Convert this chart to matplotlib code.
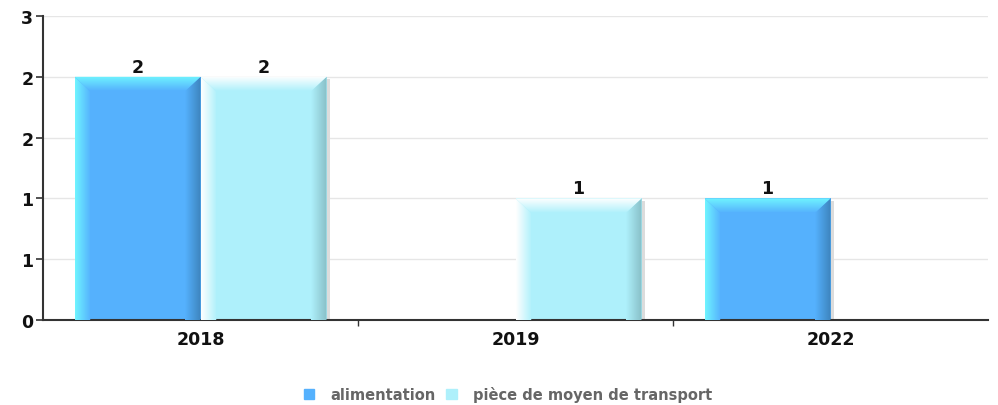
import numpy as np
import matplotlib
matplotlib.use("Agg")
import matplotlib.pyplot as plt
from matplotlib.patches import Polygon, Rectangle
from matplotlib.colors import to_rgb

# counts per year and category
years = ["2018", "2019", "2022"]
alimentation = [2, 0, 1]
piece_transport = [2, 1, 0]
series_names = ["alimentation", "pièce de moyen de transport"]
y_ticks = [0, 0.5, 1, 1.5, 2, 2.5]
y_tick_labels = ["0", "1", "1", "2", "2", "3"]

# main, light edge, dark edge
palette = [("#55b1fd", "#6ff4ff", "#3d84bd"),
           ("#aef0fb", "#ffffff", "#88bfc7")]


def gradient_fill(ax, poly_xy, c_from, c_to, direction, extent):
    """Fill a polygon with a linear gradient (h = left->right, v = bottom->top)."""
    n = 64
    a = np.array(to_rgb(c_from))
    b = np.array(to_rgb(c_to))
    t = np.linspace(0, 1, n)
    cols = a[None, :] * (1 - t[:, None]) + b[None, :] * t[:, None]
    if direction == "h":
        img = cols[None, :, :]
    else:
        img = cols[:, None, :]
    im = ax.imshow(img, extent=extent, origin="lower", aspect="auto",
                   interpolation="bilinear", zorder=3)
    clip = Polygon(poly_xy, closed=True, transform=ax.transData)
    im.set_clip_path(clip)


fig = plt.figure(figsize=(9.98, 4.06), dpi=100)
ax = fig.add_axes([43 / 998, 85 / 406, 945 / 998, 304 / 406])

x = np.arange(len(years))
width = 0.4
dx = 0.05
dy = 0.12

for s, (vals, (main, light, dark)) in enumerate(zip([alimentation, piece_transport], palette)):
    offs = -width / 2 if s == 0 else width / 2
    bars = ax.bar(x + offs, vals, width, color=main, zorder=2, linewidth=0,
                  label=series_names[s])
    for b, v in zip(bars, vals):
        if v == 0:
            continue
        x0 = b.get_x()
        x1 = x0 + b.get_width()
        top = b.get_height()
        # soft shadow on the right
        ax.add_patch(Rectangle((x1, 0), 0.012, top - 0.02, color="#dcdcdc",
                               zorder=1, linewidth=0))
        # left bevel
        gradient_fill(ax, [(x0, 0), (x0, top), (x0 + dx, top - dy), (x0 + dx, 0)],
                      light, main, "h", (x0, x0 + dx, 0, top))
        # right bevel
        gradient_fill(ax, [(x1, 0), (x1, top), (x1 - dx, top - dy), (x1 - dx, 0)],
                      main, dark, "h", (x1 - dx, x1, 0, top))
        # top bevel
        gradient_fill(ax, [(x0, top), (x1, top), (x1 - dx, top - dy), (x0 + dx, top - dy)],
                      main, light, "v", (x0, x1, top - dy, top))
        ax.text(b.get_x() + b.get_width() / 2, top + 0.01, str(v), ha="center",
                va="bottom", fontsize=12.5, fontweight="bold", color="#111111", zorder=5)

ax.set_xlim(-0.5, len(years) - 0.5)
ax.set_ylim(0, 2.5)
ax.set_yticks(y_ticks)
ax.set_yticklabels(y_tick_labels)
ax.set_xticks(x)
ax.set_xticklabels(years)
ax.set_xticks(np.arange(1, len(years)) - 0.5, minor=True)
ax.tick_params(axis="x", which="major", length=0, pad=7)
ax.tick_params(axis="x", which="minor", length=4, width=1, color="#333333", direction="out")
ax.tick_params(axis="y", length=5, width=1.2, color="#333333", pad=2)
for lab in ax.get_xticklabels() + ax.get_yticklabels():
    lab.set_fontsize(12.5)
    lab.set_fontweight("bold")
    lab.set_color("#111111")

ax.yaxis.grid(True, color="#e6e6e6", linewidth=1, zorder=0)
ax.set_axisbelow(True)
for side in ["top", "right"]:
    ax.spines[side].set_visible(False)
ax.spines["left"].set_color("#333333")
ax.spines["left"].set_linewidth(1.5)
ax.spines["bottom"].set_color("#333333")
ax.spines["bottom"].set_linewidth(1.5)

handles = [Rectangle((0, 0), 1, 1, color=palette[0][0]),
           Rectangle((0, 0), 1, 1, color=palette[1][0])]
leg = fig.legend(handles, series_names, loc="center", bbox_to_anchor=(508 / 998, 1 - 395 / 406),
                 ncol=2, frameon=False, handlelength=0.7, handleheight=0.7,
                 handletextpad=1.1, columnspacing=0.75,
                 prop={"size": 10.5, "weight": "bold"})
for t in leg.get_texts():
    t.set_color("#666666")

fig.savefig("out.png", dpi=100)
